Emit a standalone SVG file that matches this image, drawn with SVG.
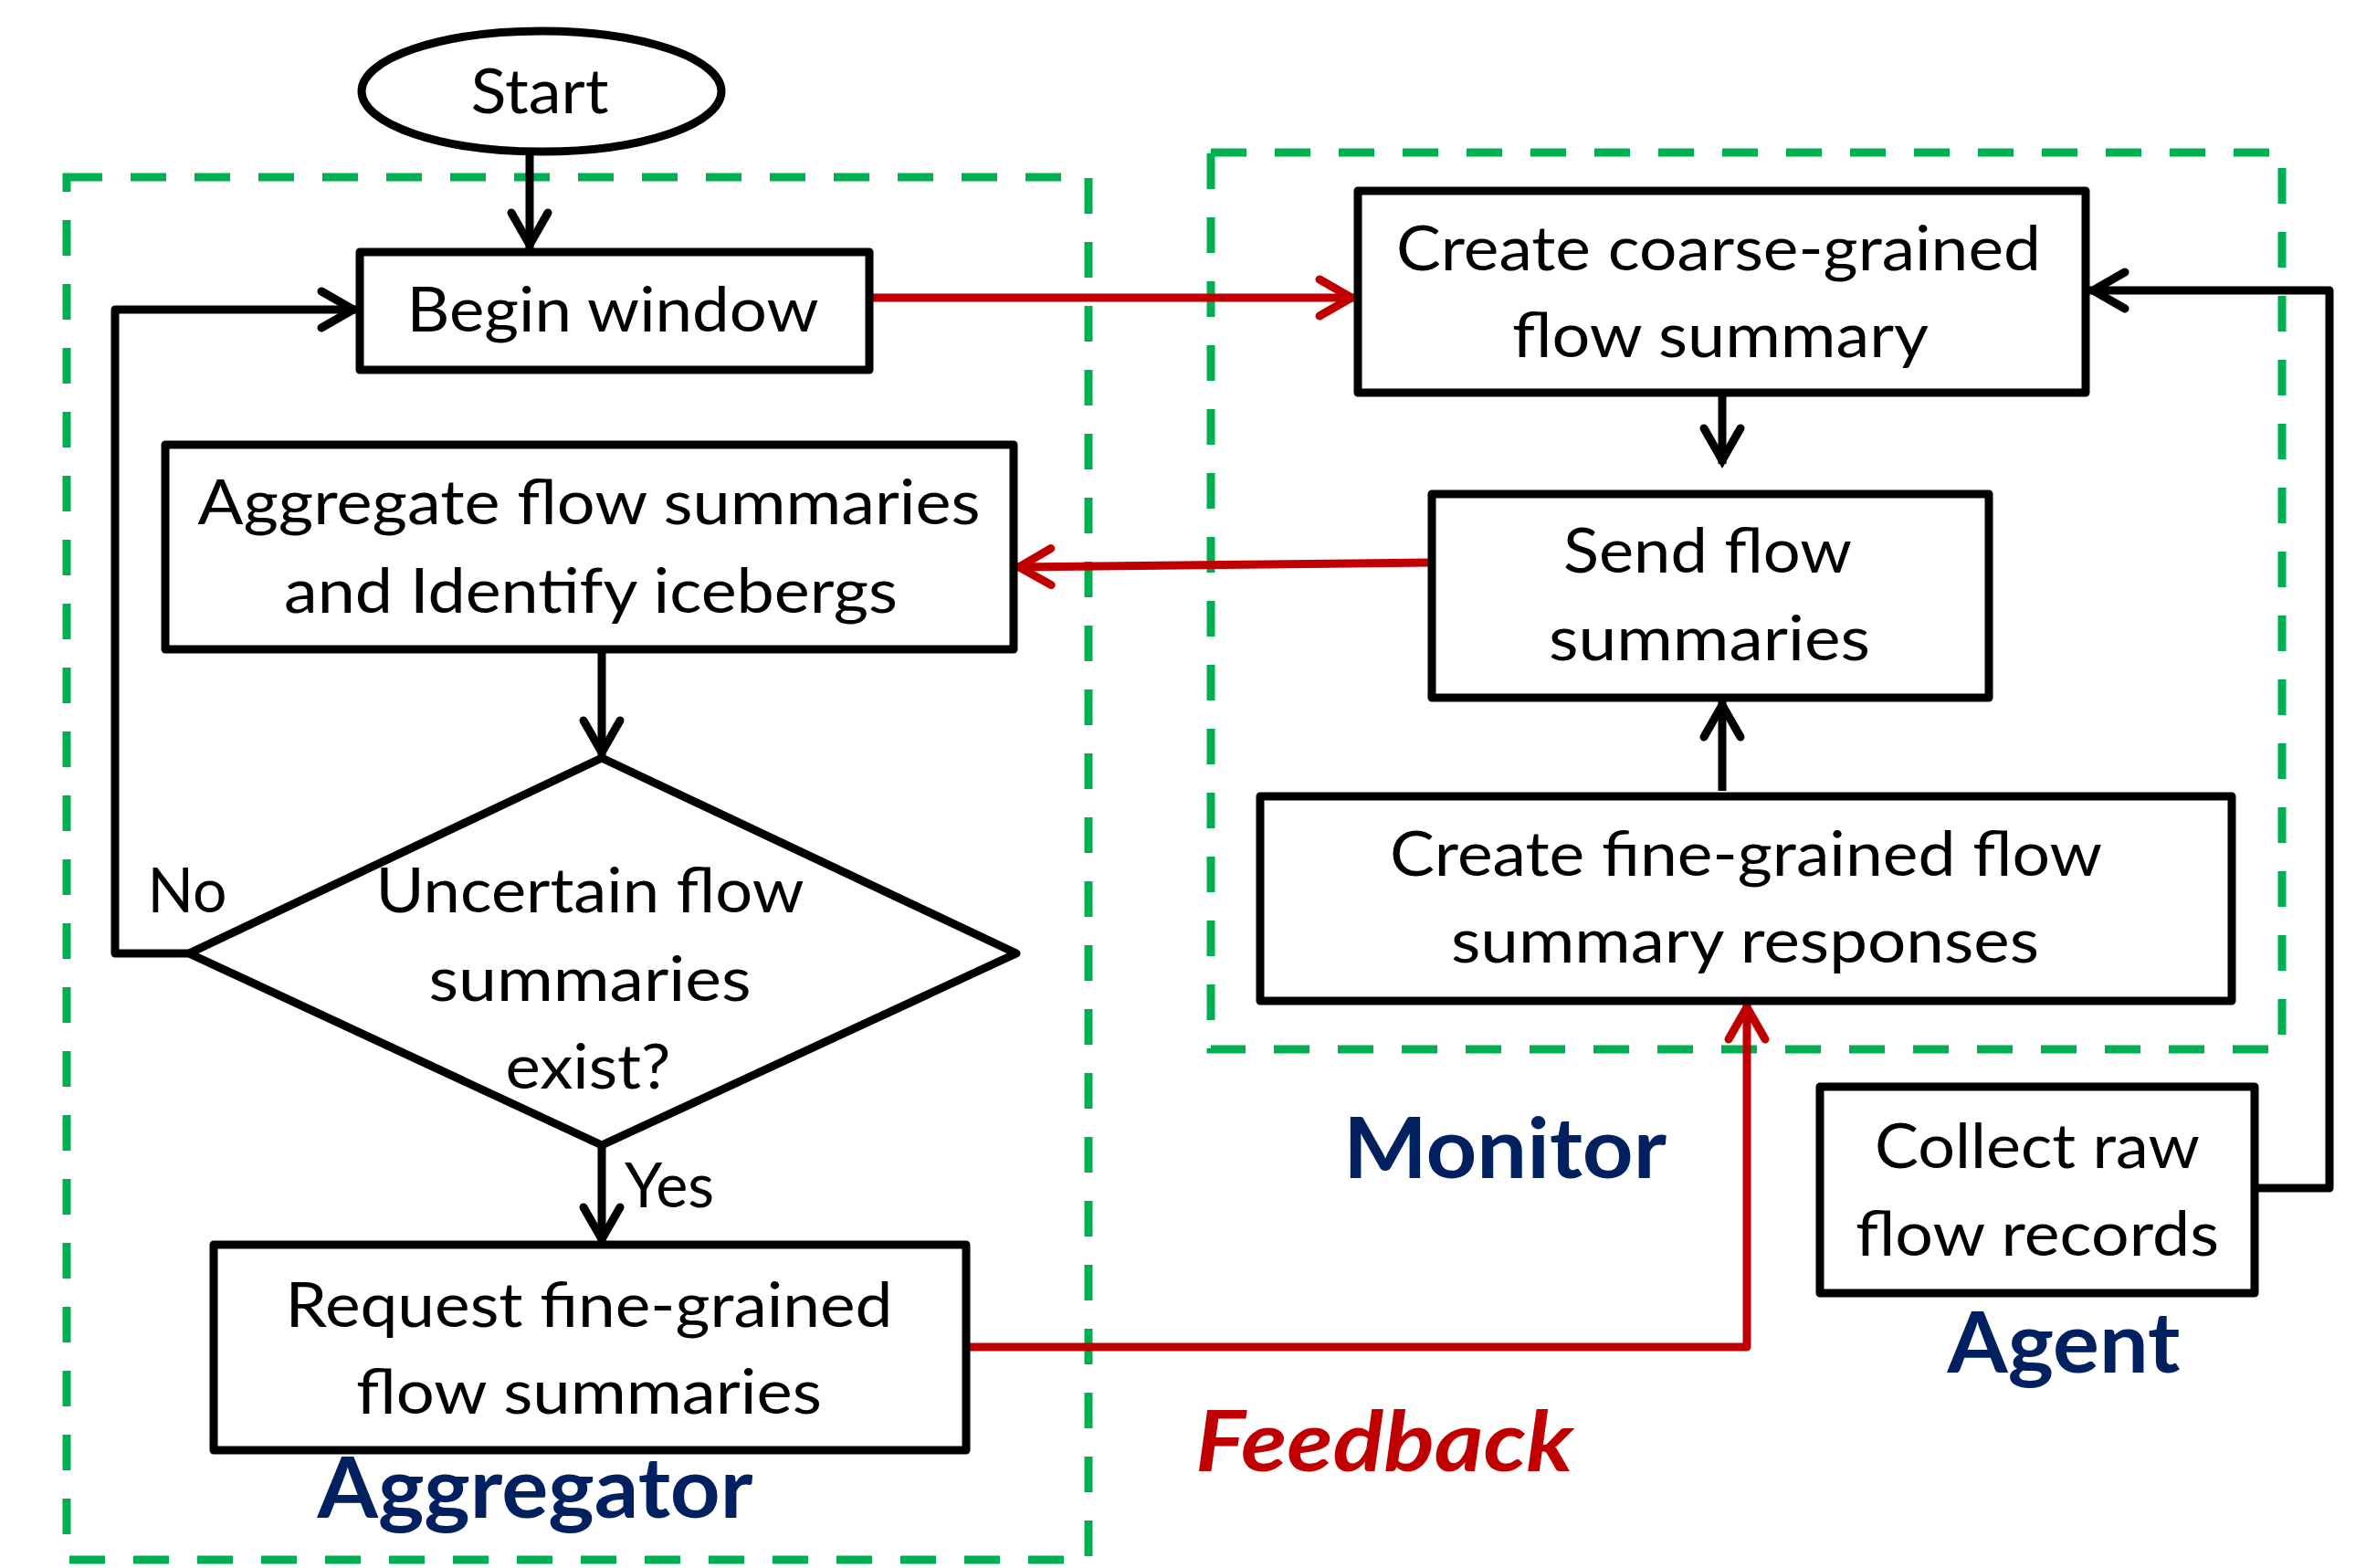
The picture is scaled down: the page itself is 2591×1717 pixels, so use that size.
<svg xmlns="http://www.w3.org/2000/svg" width="2591" height="1717" viewBox="0 0 2591 1717">
<style>
.box{fill:#fff;stroke:#000;stroke-width:9;stroke-linejoin:round}
.grp{fill:none;stroke:#00B050;stroke-width:9;stroke-dasharray:39 31}
.t{font-family:Lato,"Open Sans","Liberation Sans",sans-serif;font-size:68px;fill:#000;text-anchor:middle}
.lbl{font-family:Lato,"Open Sans","Liberation Sans",sans-serif;font-size:92px;font-weight:bold;fill:#002060;text-anchor:middle}
.fb{font-family:Lato,"Open Sans","Liberation Sans",sans-serif;font-size:92px;font-weight:bold;font-style:italic;fill:#C00000;text-anchor:middle}
.k{fill:none;stroke:#000;stroke-width:9;stroke-linejoin:round}
.r{fill:none;stroke:#C00000;stroke-width:9;stroke-linejoin:round}
</style>
<defs>
<marker id="ak" markerUnits="userSpaceOnUse" viewBox="-50 -30 60 60" refX="0" refY="0" markerWidth="60" markerHeight="60" orient="auto">
<path d="M-39,-20 L-4,0 L-39,20" fill="none" stroke="#000" stroke-width="9" stroke-linecap="round"/>
</marker>
<marker id="ar" markerUnits="userSpaceOnUse" viewBox="-50 -30 60 60" refX="0" refY="0" markerWidth="60" markerHeight="60" orient="auto">
<path d="M-39,-20 L-4,0 L-39,20" fill="none" stroke="#C00000" stroke-width="9" stroke-linecap="round"/>
</marker>
</defs>
<rect width="2591" height="1717" fill="#fff"/>

<g id="groups">
<rect id="aggregator-group" class="grp" x="73" y="194" width="1119" height="1514"/>
<rect id="monitor-group" class="grp" x="1326" y="167" width="1173" height="982"/>
</g>

<g id="connectors">
<path class="k" d="M580,170 L580,272" marker-end="url(#ak)"/>
<path class="r" d="M954,326 L1484,326" marker-end="url(#ar)"/>
<path class="k" d="M1886,432 L1886,508" marker-end="url(#ak)"/>
<path class="k" d="M1886,866 L1886,768" marker-end="url(#ak)"/>
<path class="r" d="M1566,616 L1112,621" marker-end="url(#ar)"/>
<path class="k" d="M659,713 L659,828" marker-end="url(#ak)"/>
<path class="k" d="M659,1254 L659,1361" marker-end="url(#ak)"/>
<path class="k" d="M207,1044 L126,1044 L126,339 L391,339" marker-end="url(#ak)"/>
<path class="r" d="M1060,1475 L1913,1475 L1913,1099" marker-end="url(#ar)"/>
<path class="k" d="M2471,1301 L2551,1301 L2551,318 L2288,318" marker-end="url(#ak)"/>
</g>

<g id="start">
<ellipse cx="593" cy="100" rx="197" ry="66" fill="#fff" stroke="#000" stroke-width="9"/>
<text class="t" x="591" y="124" textLength="151" lengthAdjust="spacingAndGlyphs">Start</text>
</g>

<g id="begin-window">
<rect class="box" x="394" y="276" width="558" height="129"/>
<text class="t" x="671" y="363" textLength="451" lengthAdjust="spacingAndGlyphs">Begin window</text>
</g>

<g id="aggregate">
<rect class="box" x="181" y="487" width="929" height="224"/>
<text class="t" x="645" y="574" textLength="857" lengthAdjust="spacingAndGlyphs">Aggregate flow summaries</text>
<text class="t" x="647" y="671" textLength="672" lengthAdjust="spacingAndGlyphs">and Identify icebergs</text>
</g>

<g id="decision">
<polygon points="659,830 1113,1044 659,1254 207,1044" fill="#fff" stroke="#000" stroke-width="9" stroke-linejoin="round"/>
<text class="t" x="646" y="999" textLength="469" lengthAdjust="spacingAndGlyphs">Uncertain flow</text>
<text class="t" x="646" y="1096" textLength="353" lengthAdjust="spacingAndGlyphs">summaries</text>
<text class="t" x="644" y="1192" textLength="181" lengthAdjust="spacingAndGlyphs">exist?</text>
</g>

<g id="edge-labels">
<text class="t" x="205" y="999" textLength="87" lengthAdjust="spacingAndGlyphs">No</text>
<text class="t" x="733" y="1322" textLength="98" lengthAdjust="spacingAndGlyphs">Yes</text>
</g>

<g id="request">
<rect class="box" x="234" y="1363" width="824" height="225"/>
<text class="t" x="645" y="1453" textLength="665" lengthAdjust="spacingAndGlyphs">Request fine-grained</text>
<text class="t" x="645" y="1548" textLength="510" lengthAdjust="spacingAndGlyphs">flow summaries</text>
</g>

<g id="coarse">
<rect class="box" x="1487" y="209" width="797" height="221"/>
<text class="t" x="1882" y="296" textLength="706" lengthAdjust="spacingAndGlyphs">Create coarse-grained</text>
<text class="t" x="1884" y="391" textLength="456" lengthAdjust="spacingAndGlyphs">flow summary</text>
</g>

<g id="send">
<rect class="box" x="1568" y="541" width="610" height="223"/>
<text class="t" x="1870" y="627" textLength="316" lengthAdjust="spacingAndGlyphs">Send flow</text>
<text class="t" x="1872" y="723" textLength="352" lengthAdjust="spacingAndGlyphs">summaries</text>
</g>

<g id="fine">
<rect class="box" x="1380" y="872" width="1064" height="224"/>
<text class="t" x="1912" y="959" textLength="780" lengthAdjust="spacingAndGlyphs">Create fine-grained flow</text>
<text class="t" x="1911" y="1054" textLength="644" lengthAdjust="spacingAndGlyphs">summary responses</text>
</g>

<g id="collect">
<rect class="box" x="1993" y="1190" width="476" height="226"/>
<text class="t" x="2231" y="1279" textLength="356" lengthAdjust="spacingAndGlyphs">Collect raw</text>
<text class="t" x="2231" y="1375" textLength="398" lengthAdjust="spacingAndGlyphs">flow records</text>
</g>

<g id="labels">
<text class="lbl" x="586" y="1662" textLength="477" lengthAdjust="spacingAndGlyphs">Aggregator</text>
<text class="lbl" x="1648" y="1290" textLength="354" lengthAdjust="spacingAndGlyphs">Monitor</text>
<text class="lbl" x="2260" y="1503" textLength="255" lengthAdjust="spacingAndGlyphs">Agent</text>
<text class="fb" x="1516" y="1611" textLength="414" lengthAdjust="spacingAndGlyphs">Feedback</text>
</g>
</svg>
